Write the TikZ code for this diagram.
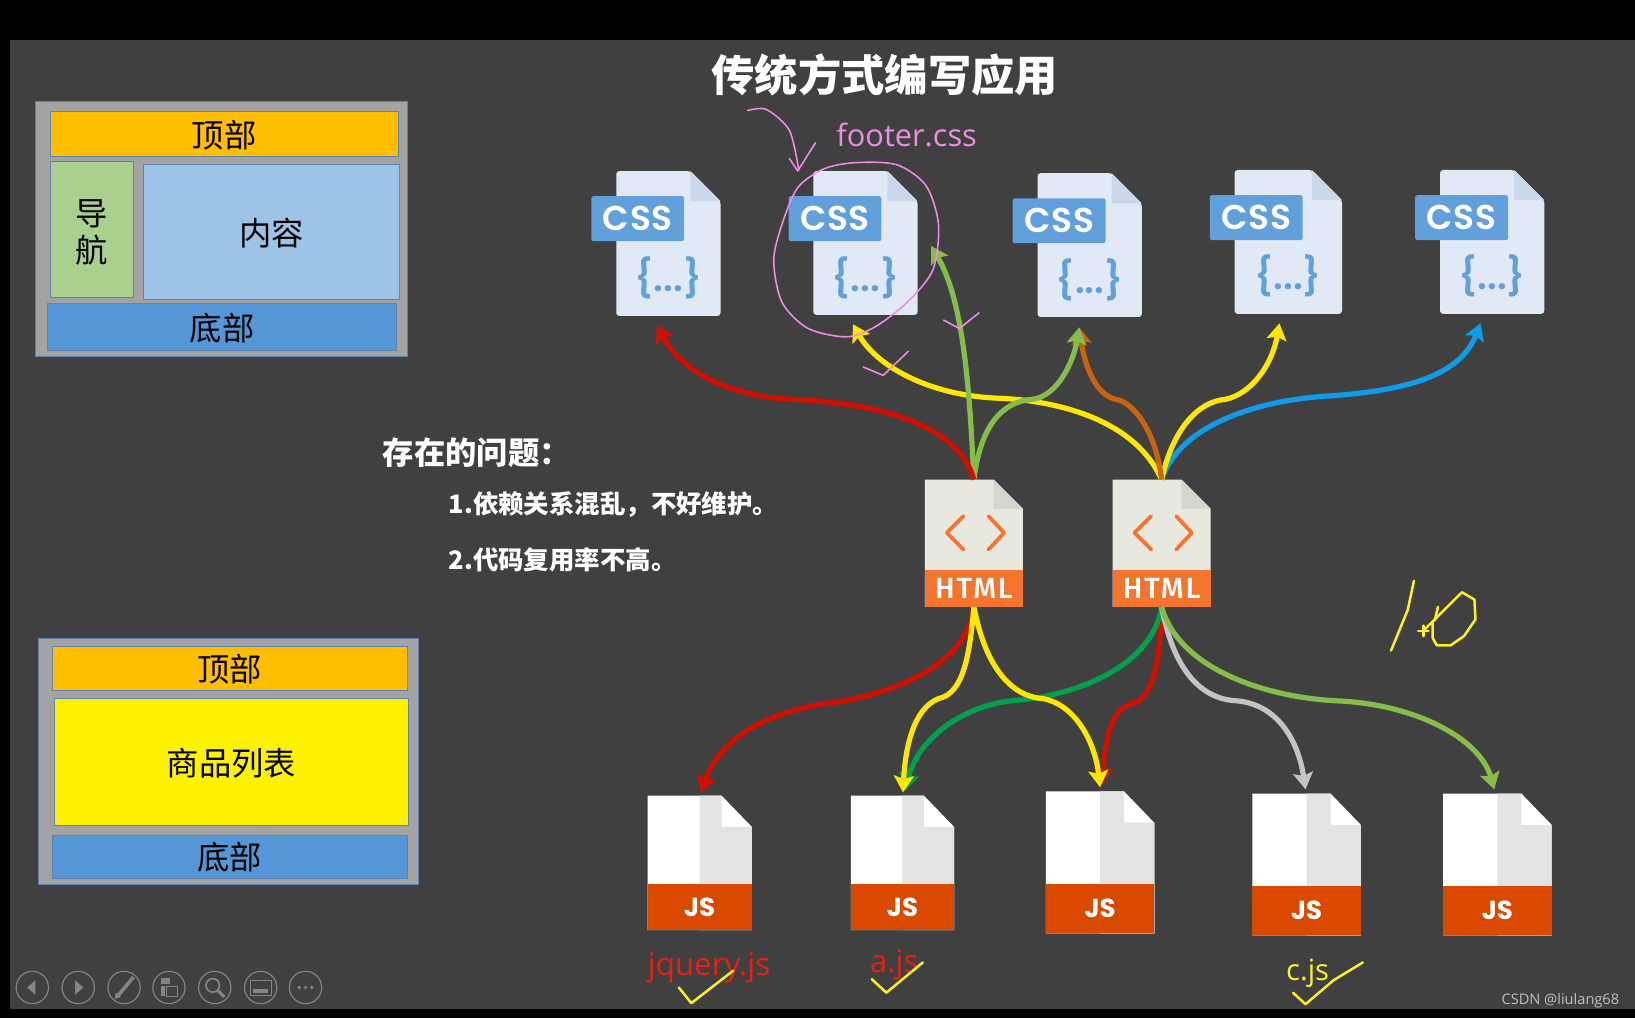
\documentclass[tikz,border=0pt]{standalone}
\usepackage{fontspec}
\setmainfont{Noto Sans CJK SC}
\newfontfamily\iconfont[BoldFont={Poppins SemiBold}, LetterSpace=2]{Poppins}
\newfontfamily\bracefont[BoldFont={Poppins SemiBold}]{Poppins}
\newfontfamily\jsfont{Poppins}
\newfontfamily\htmlfont[BoldFont={Fira Sans Medium}, LetterSpace=6]{Fira Sans}
\newfontfamily\handfont{Open Sans}
\usetikzlibrary{shapes, arrows.meta, calc, backgrounds}

\definecolor{slide}{HTML}{404040}
\definecolor{panelgrey}{HTML}{A3A3A3}
\definecolor{panelline}{HTML}{5F82AE}
\definecolor{amber}{HTML}{FFBE00}
\definecolor{navgreen}{HTML}{A9D08E}
\definecolor{skyblue}{HTML}{9DC3E6}
\definecolor{midblue}{HTML}{5496D6}
\definecolor{listyellow}{HTML}{FFF200}
\definecolor{cssbody}{HTML}{E1E9F6}
\definecolor{cssfold}{HTML}{CBD7EB}
\definecolor{cssblue}{HTML}{62A0DB}
\definecolor{htmlbody}{HTML}{E8E8DF}
\definecolor{htmlfold}{HTML}{D6D6CC}
\definecolor{htmlorange}{HTML}{F4752E}
\definecolor{jsred}{HTML}{D94A00}
\definecolor{jsgrey}{HTML}{E4E3E3}
\definecolor{penpink}{HTML}{F08CE6}
\definecolor{penyellow}{HTML}{FFF02A}
\definecolor{penred}{HTML}{E8200F}
\definecolor{linkred}{HTML}{D01000}
\definecolor{linkyellow}{HTML}{FFE800}
\definecolor{linkgreen}{HTML}{86BC4A}
\definecolor{linkbrown}{HTML}{C8640F}
\definecolor{linkblue}{HTML}{0E9CE8}
\definecolor{linkdark}{HTML}{00A04C}
\definecolor{linkgrey}{HTML}{C4C4C4}
\definecolor{btngrey}{HTML}{858585}

\newcommand{\fsz}[1]{\fontsize{#1}{#1}\selectfont}

\newcommand{\cssfile}[5]{
    \node[filebox, minimum width=#4pt, minimum height=#5pt] (#1) at (#2,#3) {};
    \fill[cssbody, rounded corners=3pt] (#1.south west) -- (#1.south east) -- ($(#1.north east)+(0,29)$) -- ($(#1.north east)+(-29,0)$) -- (#1.north west) -- cycle;
    \fill[cssfold] ($(#1.north east)+(-29,0)$) -- ($(#1.north east)+(-29,29)$) -- ($(#1.north east)+(0,29)$) -- cycle;
    \node[cssbadge, anchor=north west] (#1badge) at ($(#1.north west)+(-24,24)$) {CSS};
    \node[cssbrace] (#1brace) at ($(#1.center)+(0,33)$) {\{...\}};
}
\newcommand{\htmlfile}[3]{
    \node[filebox, minimum width=94pt, minimum height=122pt] (#1) at (#2,#3) {};
    \fill[htmlbody] (#1.south west) -- (#1.south east) -- ($(#1.north east)+(0,28)$) -- ($(#1.north east)+(-28,0)$) -- (#1.north west) -- cycle;
    \fill[htmlfold] ($(#1.north east)+(-28,0)$) -- ($(#1.north east)+(-28,28)$) -- ($(#1.north east)+(0,28)$) -- cycle;
    \node[htmlband, anchor=south] (#1band) at (#1.south) {HTML};
    \draw[chevron] ($(#1.center)+(-10,-26)$) -- ($(#1.center)+(-26,-10)$) -- ($(#1.center)+(-10,6)$);
    \draw[chevron] ($(#1.center)+(14,-26)$) -- ($(#1.center)+(29,-10)$) -- ($(#1.center)+(14,6)$);
}
\newcommand{\jsfile}[6]{
    \node[filebox, minimum width=#4pt, minimum height=#5pt] (#1) at (#2,#3) {};
    \fill[white] (#1.south west) -- (#1.south east) -- ($(#1.north east)+(0,30)$) -- ($(#1.north east)+(-29,0)$) -- (#1.north west) -- cycle;
    \fill[jsgrey] (#1.south) -- (#1.south east) -- ($(#1.north east)+(0,30)$) -- ($(#1.north east)+(-29,30)$) -- ($(#1.north east)+(-29,0)$) -- (#1.north) -- cycle;
    \node[jsband, minimum width=#4pt, minimum height=#6pt, anchor=south] (#1band) at (#1.south) {JS};
}

\begin{document}
\begin{tikzpicture}[
    x=1pt, y=-1pt,
    region/.style={rectangle, draw=panelline, line width=0.9pt, text=black, inner sep=0pt, text height=29pt, text depth=3.4pt, font=\fsz{31}},
    problem/.style={anchor=west, text=white, font=\bfseries\fsz{24.4}, inner sep=0pt},
    filebox/.style={rectangle, inner sep=0pt, outer sep=0pt},
    cssbadge/.style={rectangle, rounded corners=2pt, fill=cssblue, text=white, minimum width=89pt, minimum height=43pt, inner sep=0pt, font=\iconfont\bfseries\fsz{33}},
    cssbrace/.style={text=cssblue, inner sep=0pt, font=\bracefont\bfseries\fsz{36}},
    htmlband/.style={rectangle, fill=htmlorange, text=white, minimum width=94pt, minimum height=35pt, inner sep=0pt, font=\htmlfont\bfseries\fsz{28}},
    jsband/.style={rectangle, fill=jsred, text=white, inner sep=0pt, font=\jsfont\bfseries\fsz{25}},
    chevron/.style={htmlorange, line width=3.6pt, line cap=round, line join=round},
    link/.style={line width=5pt, -{Stealth[length=16pt, width=19pt, inset=3pt]}},
    pinkpen/.style={penpink, line width=1.5pt, line cap=round, line join=round},
    yellowpen/.style={penyellow, line width=2.4pt, line cap=round, line join=round},
    button/.style={circle, draw=btngrey, line width=1.1pt, minimum size=31pt, inner sep=0pt}
]

% Slide background
\useasboundingbox (0,0) rectangle (1568,976);
\fill[black] (0,0) rectangle (1568,976);
\fill[slide] (10,38) rectangle (1568,968);

% Upper page layout
\node[region, fill=panelgrey, minimum width=357pt, minimum height=245pt] (pageA) at (212.5,219.5) {};
\node[region, fill=amber, minimum width=334pt, minimum height=43pt] (topA) at (215,128.5) {顶部};
\node[region, fill=navgreen, minimum width=80pt, minimum height=130pt, align=center, text height=, text depth=, font=\fsz{31}] (navA) at (88,220) {\rule{0pt}{31pt}导\\[5pt]航};
\node[region, fill=skyblue, minimum width=245pt, minimum height=129pt] (mainA) at (260.5,222.5) {内容};
\node[region, fill=midblue, minimum width=334pt, minimum height=45pt] (footA) at (213,313.5) {底部};

% Lower page layout
\node[region, fill=panelgrey, minimum width=364pt, minimum height=236pt] (pageB) at (219,730) {};
\node[region, fill=amber, minimum width=341pt, minimum height=42pt] (topB) at (220.5,641) {顶部};
\node[region, fill=listyellow, minimum width=340pt, minimum height=122pt] (listB) at (222,731) {商品列表};
\node[region, fill=midblue, minimum width=341pt, minimum height=41pt] (footB) at (220.5,821.5) {底部};

% Title and problem list
\node[text=white, font=\bfseries\fsz{41.5}, inner sep=0pt] (title) at (848.5,72) {传统方式编写应用};
\node[problem, font=\bfseries\fsz{30}] (issue) at (367,434) {存在的问题：};
\node[problem] (issueA) at (430,484) {1.依赖关系混乱，不好维护。};
\node[problem] (issueB) at (430,537) {2.代码复用率不高。};

% File icons
\cssfile{cssA}{641}{233.5}{100}{139}
\cssfile{cssB}{830}{233}{100}{138}
\cssfile{cssC}{1045}{235}{100}{138}
\cssfile{cssD}{1235.5}{232}{103}{138}
\cssfile{cssE}{1431}{232}{100}{138}
\htmlfile{htmlA}{934}{521}
\htmlfile{htmlB}{1114}{521}
\jsfile{jsA}{671}{827.5}{100}{129}{44}
\jsfile{jsB}{865.5}{827.5}{99}{129}{44}
\jsfile{jsC}{1055}{827}{104}{136}{47}
\jsfile{jsD}{1253}{829}{104}{136}{47}
\jsfile{jsE}{1436}{829}{104}{136}{47}

% Arrow ends
\coordinate (tipA) at (630,312);
\coordinate (tipB) at (818,311);
\coordinate (tipC) at (893,236);
\coordinate (tipD) at (1035,314);
\coordinate (tipE) at (1227,310);
\coordinate (tipF) at (1420,310);
\coordinate (tipG) at (672,760);
\coordinate (tipH) at (866,760);
\coordinate (tipI) at (1055,755);
\coordinate (tipJ) at (1252,757);
\coordinate (tipK) at (1433,757);

% Upper connectors
\draw[link, linkyellow] (htmlB.north) .. controls (1090,405) and (1020,385) .. (960,382) .. controls (890,380) and (840,350) .. (tipB);
\draw[link, linkblue] (htmlB.north) .. controls (1130,410) and (1200,385) .. (1270,380) .. controls (1350,375) and (1400,360) .. (tipF);
\draw[link, linkyellow] (htmlB.north) .. controls (1125,410) and (1150,385) .. (1175,383) .. controls (1200,378) and (1220,350) .. (tipE);
\draw[link, linkbrown] (htmlB.north) .. controls (1108,410) and (1085,385) .. (1070,383) .. controls (1050,378) and (1040,350) .. (tipD);
\draw[link, linkgreen] (htmlA.north) .. controls (930,380) and (925,290) .. (tipC);
\draw[link, linkgreen] (htmlA.north) .. controls (940,410) and (960,385) .. (990,383) .. controls (1015,380) and (1030,345) .. (tipD);
\draw[link, linkred] (htmlA.north) .. controls (920,410) and (850,387) .. (760,383) .. controls (690,380) and (650,350) .. (tipA);

% Lower connectors
\draw[link, linkred] (htmlB.south) .. controls (1112,640) and (1105,670) .. (1085,675) .. controls (1065,680) and (1060,710) .. ($(tipI)+(2,-3)$);
\draw[link, linkdark] (htmlB.south) .. controls (1105,640) and (1030,668) .. (970,672) .. controls (920,678) and (880,710) .. ($(tipH)+(2,-2)$);
\draw[link, linkgrey] (htmlB.south) .. controls (1125,640) and (1150,670) .. (1185,672) .. controls (1225,675) and (1245,710) .. (tipJ);
\draw[link, linkgreen] (htmlB.south) .. controls (1130,640) and (1210,668) .. (1280,672) .. controls (1360,675) and (1420,710) .. (tipK);
\draw[link, linkred] (htmlA.south) .. controls (930,630) and (870,665) .. (790,675) .. controls (730,685) and (690,710) .. (tipG);
\draw[link, linkyellow] (htmlA.south) .. controls (930,625) and (925,665) .. (900,670) .. controls (875,680) and (868,720) .. (tipH);
\draw[link, linkyellow] (htmlA.south) .. controls (945,640) and (970,668) .. (1000,670) .. controls (1030,675) and (1050,710) .. (tipI);

% Handwritten notes
\node[text=penpink, font=\handfont\fsz{29.5}, inner sep=0pt] (footer) at (869.5,129) {footer.css};
\draw[pinkpen] plot[smooth] coordinates {(717,106) (735,105) (757,125) (766,163)};
\draw[pinkpen] (757,152) -- (765,164) -- (782,137);
\draw[pinkpen] plot[smooth cycle] coordinates {(820,156) (860,158) (888,178) (900,215) (895,258) (872,288) (840,313) (812,323) (775,315) (750,290) (742,250) (750,215) (765,180) (790,162)};
\draw[pinkpen] (905,307) -- (920,315) -- (939,300);
\draw[pinkpen] (828,352) -- (847,360) -- (871,337);
\draw[yellowpen] (1356,557) -- (1350,585) -- (1334,624);
\draw[yellowpen] (1360,605) -- (1370,605);
\draw[yellowpen] (1365,600) -- (1365,610);
\draw[yellowpen] (1366,604) -- (1374,596) -- (1402,568) -- (1414,575) -- (1415,594) -- (1404,610) -- (1391,619) -- (1378,619) -- (1374,612) -- (1374,596);
\draw[yellowpen] (1379,582) -- (1376,595);

\node[text=penred, font=\handfont\fsz{30}, inner sep=0pt] (jqueryjs) at (680,928) {jquery.js};
\node[text=penred, font=\handfont\fsz{30}, inner sep=0pt] (ajs) at (857.5,925) {a.js};
\node[text=penyellow, font=\handfont\fsz{28}, inner sep=0pt] (cjs) at (1254,933) {c.js};
\draw[yellowpen] (651,947) -- (663,962) -- (703,931);
\draw[yellowpen] (836,939) -- (850,952) -- (885,923);
\draw[yellowpen] (1240,952) -- (1252,963) -- (1279,940) -- (1307,923);

% Slide show buttons
\node[button] (btnA) at (31,947) {};
\node[button] (btnB) at (75,947) {};
\node[button] (btnC) at (119,947) {};
\node[button] (btnD) at (162,947) {};
\node[button] (btnE) at (206,947) {};
\node[button] (btnF) at (250,947) {};
\node[button] (btnG) at (293,947) {};
\fill[btngrey] ($(btnA)+(3,-7)$) -- ($(btnA)+(-5,0)$) -- ($(btnA)+(3,7)$) -- cycle;
\fill[btngrey] ($(btnB)+(-3,-7)$) -- ($(btnB)+(5,0)$) -- ($(btnB)+(-3,7)$) -- cycle;
\draw[btngrey, line width=3.4pt] ($(btnC)+(9,-10)$) -- ($(btnC)+(-6,8)$);
\fill[btngrey] ($(btnC)+(-8,5)$) -- ($(btnC)+(-3,9)$) -- ($(btnC)+(-9,11)$) -- cycle;
\fill[btngrey] ($(btnD)+(-8,-9)$) rectangle ($(btnD)+(1,-3)$);
\fill[btngrey] ($(btnD)+(-8,-1)$) rectangle ($(btnD)+(-4,8)$);
\draw[btngrey, line width=1.1pt] ($(btnD)+(-2,-1)$) rectangle ($(btnD)+(8,9)$);
\draw[btngrey, line width=1.6pt] ($(btnE)+(-2,-2)$) circle (6.5);
\draw[btngrey, line width=3pt] ($(btnE)+(3,3)$) -- ($(btnE)+(9,9)$);
\draw[btngrey, line width=1.1pt] ($(btnF)+(-10,-7)$) rectangle ($(btnF)+(10,8)$);
\fill[btngrey] ($(btnF)+(-7,1)$) rectangle ($(btnF)+(7,5)$);
\fill[btngrey] ($(btnG)+(-6,0)$) circle (1.8);
\fill[btngrey] (btnG) circle (1.8);
\fill[btngrey] ($(btnG)+(6,0)$) circle (1.8);

% Watermark
\node[text=white!75!black, font=\handfont\fsz{14}, anchor=east, inner sep=0pt] (mark) at (1553,960) {CSDN @liulang68};

\end{tikzpicture}
\end{document}
